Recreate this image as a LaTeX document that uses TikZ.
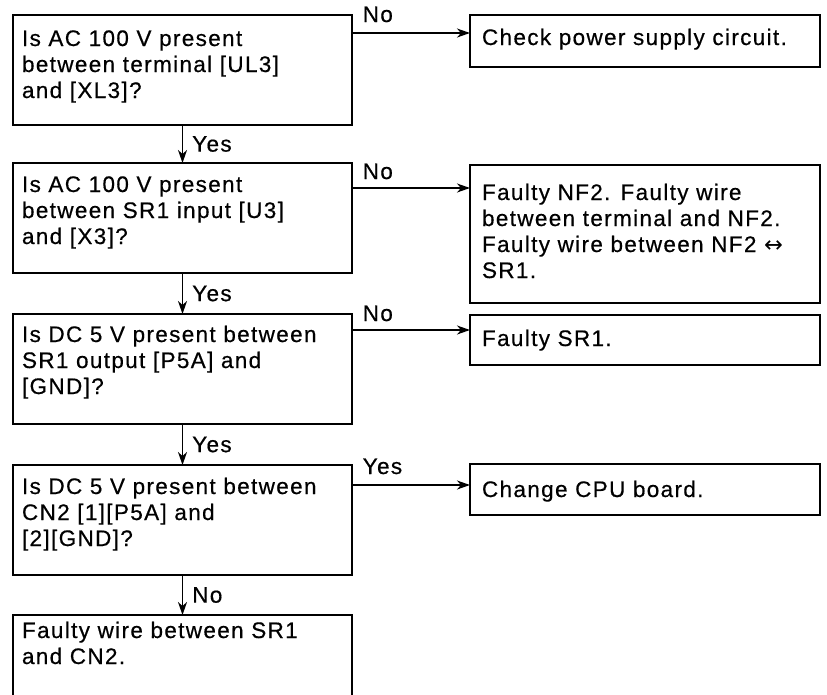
\documentclass[tikz,border=0pt]{standalone}
\usepackage{fontspec}
\setmainfont{Liberation Sans}[LetterSpace=6,FakeBold=0.5]
\usetikzlibrary{arrows.meta,calc}
\newcommand\bxt[5]{\parbox[c][#2pt][t]{#1pt}{\fontsize{22.5pt}{26pt}\selectfont\raggedright\leftskip=#3pt\rule{0pt}{#4pt}#5\par}}
\tikzset{
  box/.style={draw, line width=1.7pt, anchor=north west, inner sep=0pt, outer sep=0pt},
  arr/.style={line width=1.5pt, -{Stealth[length=13pt,width=9pt,inset=4pt]}},
  lbl/.style={inner sep=0pt, font=\fontsize{22.5pt}{26pt}\selectfont},
}
\begin{document}
\begin{tikzpicture}[x=1pt,y=-1pt]
\path[use as bounding box] (0,0) rectangle (827,694);
\clip (0,0) rectangle (827,694);
% left column
\node[box] (q1) at (13,15)  {\bxt{339}{110}{9}{31}{Is AC 100 V present\\between terminal [UL3]\\and [XL3]?}};
\node[box] (q2) at (13,163) {\bxt{339}{110}{9}{29}{Is AC 100 V present\\between SR1 input [U3]\\and [X3]?}};
\node[box] (q3) at (13,314) {\bxt{339}{110}{9}{28}{Is DC 5 V present between\\SR1 output [P5A] and\\{[}GND]?}};
\node[box] (q4) at (13,465) {\bxt{339}{110}{9}{29}{Is DC 5 V present between\\CN2 [1][P5A] and\\{[}2][GND]?}};
\node[box] (q5) at (13,615) {\bxt{339}{90}{9}{23}{Faulty wire between SR1\\and CN2.}};
% right column
\node[box] (r1) at (470,15)  {\bxt{350}{52}{12}{30}{Check power supply circuit.}};
\node[box] (r2) at (470,165) {\bxt{350}{138}{12}{35}{Faulty NF2. Faulty wire\\between terminal and NF2.\\Faulty wire between NF2 {\fontspec{DejaVu Sans}↔}\\SR1.}};
\node[box] (r3) at (470,315) {\bxt{350}{50}{12}{31}{Faulty SR1.}};
\node[box] (r4) at (470,464) {\bxt{350}{51}{12}{33}{Change CPU board.}};
% horizontal levels
\coordinate (h1) at (0,33);
\coordinate (h2) at (0,188);
\coordinate (h3) at (0,330);
\coordinate (h4) at (0,485);
% vertical connectors
\draw[arr] (q1.south) -- (q2.north) node[lbl, midway, anchor=west, xshift=9pt] {Yes};
\draw[arr] (q2.south) -- (q3.north) node[lbl, midway, anchor=west, xshift=9pt] {Yes};
\draw[arr] (q3.south) -- (q4.north) node[lbl, midway, anchor=west, xshift=9pt] {Yes};
\draw[arr] (q4.south) -- (q5.north) node[lbl, midway, anchor=west, xshift=9pt] {No};
% horizontal connectors
\draw[arr] (q1.east |- h1) -- (r1.west |- h1) node[lbl, pos=0, anchor=base west, xshift=10pt, yshift=11pt] {No};
\draw[arr] (q2.east |- h2) -- (r2.west |- h2) node[lbl, pos=0, anchor=base west, xshift=10pt, yshift=9pt] {No};
\draw[arr] (q3.east |- h3) -- (r3.west |- h3) node[lbl, pos=0, anchor=base west, xshift=10pt, yshift=9pt] {No};
\draw[arr] (q4.east |- h4) -- (r4.west |- h4) node[lbl, pos=0, anchor=base west, xshift=10pt, yshift=11pt] {Yes};
\end{tikzpicture}
\end{document}
